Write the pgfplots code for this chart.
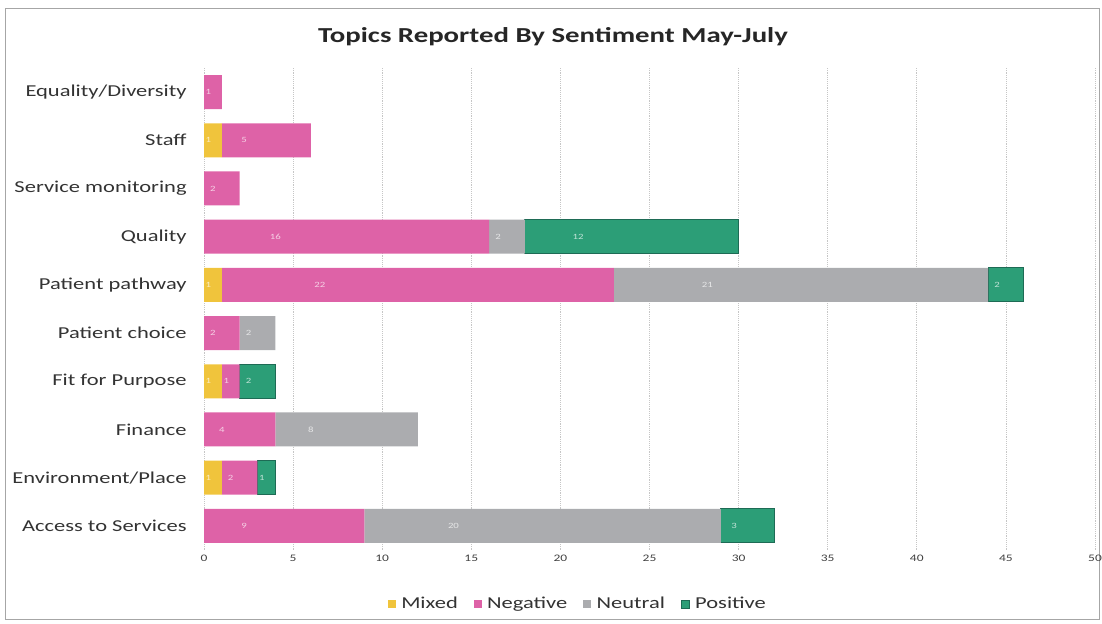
\documentclass[border=0pt]{standalone}
\usepackage{pgfplots}
\usepackage{pgfplotstable}
\pgfplotsset{compat=1.18}
\usepackage{fontspec}
\setmainfont{Carlito}[FakeStretch=1.35]

\definecolor{mixedc}{HTML}{F0C43C}
\definecolor{negc}{HTML}{DE62A7}
\definecolor{neuc}{HTML}{ABACAF}
\definecolor{posc}{HTML}{2C9E77}
\definecolor{posedge}{HTML}{1E6B55}

% rows bottom to top
\pgfplotstableread{
idx mixed neg neu pos
0   0     9   20  3
1   1     2   0   1
2   0     4   8   0
3   1     1   0   2
4   0     2   2   0
5   1     22  21  2
6   0     16  2   12
7   0     2   0   0
8   1     5   0   0
9   0     1   0   0
}\topics

% 1 px of the reference = 0.75pt; 1 x unit = 668.25pt/50
\pgfplotsset{
  seg/.style={draw=none, fill=#1},
  lbl/.style={
    visualization depends on={\thisrow{#1} \as \rawx},
    nodes near coords={\ifdim\rawx pt>0pt\pgfmathprintnumber{\rawx}\fi},
    % the shift comes out doubled, hence the 0.25
    every node near coord/.append style={anchor=center,
      xshift={-0.25*\rawx*13.365pt}, font=\fontsize{6}{7}\selectfont,
      text=white, text opacity=0.7},
  },
}

\begin{document}
\begin{tikzpicture}
  \useasboundingbox (0,0) rectangle (826.5pt,468pt);
  \draw[gray!70, line width=0.6pt] (4pt,3.5pt) rectangle (824.5pt,462pt);
  \node[font=\bfseries\fontsize{16}{18}\selectfont, text=black!85]
    at (414.75pt,440.25pt) {Topics  Reported  By Sentiment  May-July};
  \begin{axis}[
    at={(153pt,55.5pt)}, anchor=south west,
    scale only axis, width=668.25pt, height=361.5pt,
    xbar stacked, bar width=25.5pt,
    xmin=0, xmax=50, ymin=-0.5, ymax=9.5,
    xtick={0,5,...,50},
    ytick={0,...,9},
    yticklabels={Access to Services, Environment/Place, Finance,
      Fit for Purpose, Patient choice, Patient pathway, Quality,
      Service monitoring, Staff, Equality/Diversity},
    axis line style={draw=none},
    tick style={draw=none},
    xmajorgrids,
    major grid style={gray!45, densely dotted, line width=0.5pt},
    /pgf/number format/assume math mode=true,
    xticklabel style={font=\fontsize{7.5}{8}\selectfont, text=black!75},
    yticklabel style={font=\fontsize{12.5}{14}\selectfont, text=black!80, xshift=-9.5pt},
    legend style={at={(0.42,-0.112)}, anchor=center, draw=none,
      legend columns=4, font=\fontsize{12.5}{14}\selectfont, text=black!80,
      /tikz/every odd column/.append style={column sep=2pt},
      /tikz/every even column/.append style={column sep=10pt}},
    legend image code/.code={\fill[#1] (0pt,-3pt) rectangle (6pt,3pt);},
  ]
    \addplot[seg=mixedc, lbl=mixed] table[x=mixed, y=idx] {\topics};
    \addplot[seg=negc, lbl=neg] table[x=neg, y=idx] {\topics};
    \addplot[seg=neuc, lbl=neu] table[x=neu, y=idx] {\topics};
    \addplot[fill=posc, draw=posedge, line width=0.6pt, lbl=pos] table[x=pos, y=idx] {\topics};
    \legend{Mixed, Negative, Neutral, Positive}
  \end{axis}
\end{tikzpicture}
\end{document}
